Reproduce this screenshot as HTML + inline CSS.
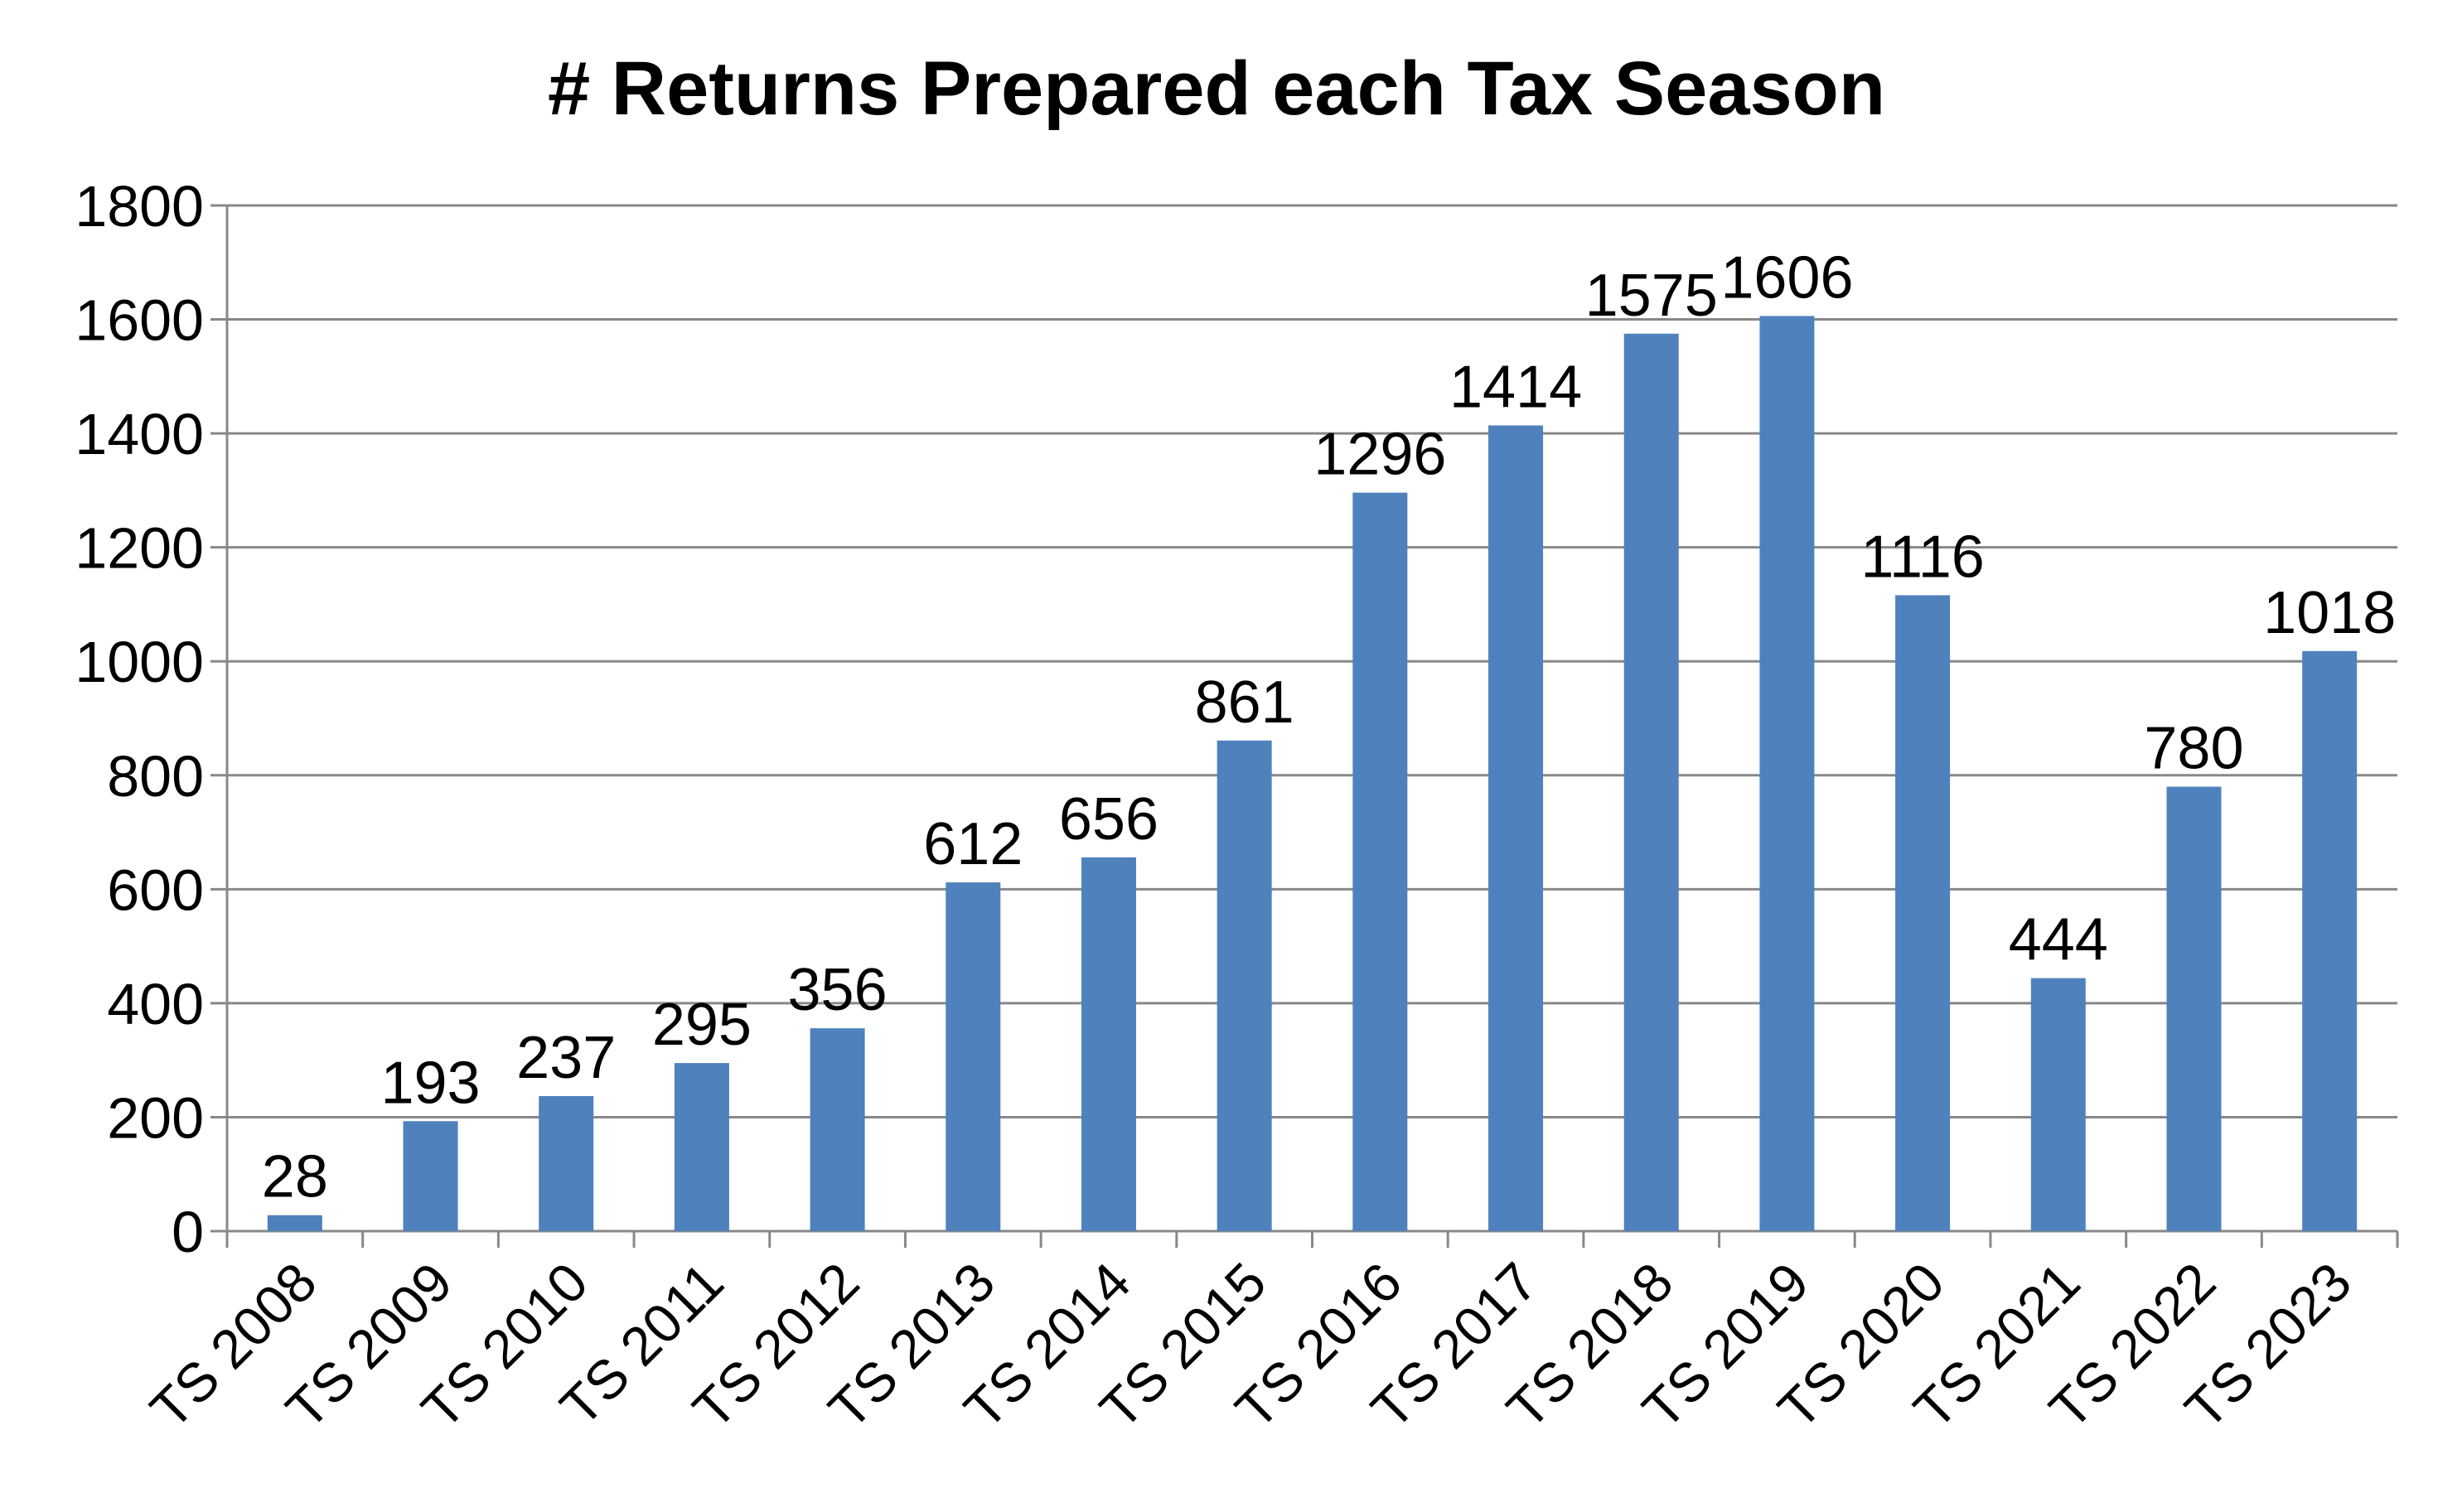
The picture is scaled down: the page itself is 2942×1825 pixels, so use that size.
<!DOCTYPE html>
<html><head><meta charset="utf-8"><style>
html,body{margin:0;padding:0;background:#fff;}
svg{display:block;font-family:"Liberation Sans",Arial,sans-serif;}
</style></head><body>
<svg id="chart" width="2942" height="1825" viewBox="0 0 2942 1825" xmlns="http://www.w3.org/2000/svg">
<rect width="2942" height="1825" fill="#fff"/>
<text x="1468" y="138" text-anchor="middle" font-size="92" font-weight="bold"># Returns Prepared each Tax Season</text>
<g id="grid"></g>
<g id="bars"></g>
<g id="axes"></g>
</svg>
<script>
const categories = ["TS 2008","TS 2009","TS 2010","TS 2011","TS 2012","TS 2013","TS 2014","TS 2015","TS 2016","TS 2017","TS 2018","TS 2019","TS 2020","TS 2021","TS 2022","TS 2023"];
const values = [28,193,237,295,356,612,656,861,1296,1414,1575,1606,1116,444,780,1018];
const yTicks = [0,200,400,600,800,1000,1200,1400,1600,1800];

const NS="http://www.w3.org/2000/svg";
const L=274,R=2893,Y0=1486,YT=248,YMAX=1800;
const bw=(R-L)/categories.length;
const yS=v=>Y0-(Y0-YT)*v/YMAX;
const xC=i=>L+bw*(i+0.5);
function mk(tag,attrs,parent,txt){const e=document.createElementNS(NS,tag);for(const k in attrs)e.setAttribute(k,attrs[k]);if(txt!==undefined)e.textContent=txt;parent.appendChild(e);return e;}
const grid=document.getElementById('grid'),bars=document.getElementById('bars'),axes=document.getElementById('axes');
yTicks.forEach(t=>{
  const y=yS(t);
  const g=mk('line',{x1:L-20,x2:R,y1:y,y2:y,stroke:'#888','stroke-width':3},grid);
  
  
  const lb=mk('text',{x:L-28,y:y+25,'text-anchor':'end','font-size':70},axes,String(t));
  
  
});
const ax=mk('line',{x1:L,x2:L,y1:YT,y2:Y0+20,stroke:'#888','stroke-width':3},axes);


for(let i=0;i<=categories.length;i++){
  const x=L+bw*i;
  const tk=mk('line',{x1:x,x2:x,y1:Y0,y2:Y0+20,stroke:'#888','stroke-width':3},axes);
  
  
}
const barW=66;
values.forEach((v,i)=>{
  const x=xC(i),y=yS(v);
  const b=mk('rect',{x:x-barW/2,y:y,width:barW,height:Y0-y,fill:'#4f81bd'},bars);
  
  
  const t=mk('text',{x:x,y:y-22,'text-anchor':'middle','font-size':72},bars,String(v));
  
  
  const xl=mk('text',{x:0,y:0,'text-anchor':'end','font-size':66,transform:`translate(${x+30},${Y0+66}) rotate(-45)`},axes,categories[i]);
  
  
});
</script>
</body></html>
